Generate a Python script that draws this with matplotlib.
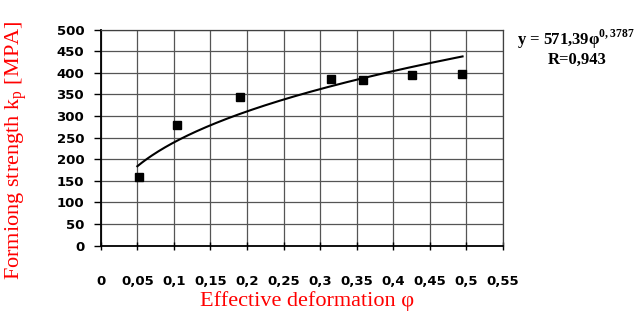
import numpy as np
import matplotlib.pyplot as plt

# measured points
phi = [0.052, 0.104, 0.190, 0.315, 0.359, 0.426, 0.494]
kp = [160, 279, 345, 386, 383, 396, 398]

# power trend line given on the chart
a = 571.39
b = 0.3787

xt = [0, 0.05, 0.1, 0.15, 0.2, 0.25, 0.3, 0.35, 0.4, 0.45, 0.5, 0.55]
xt_labels = ["0", "0,05", "0,1", "0,15", "0,2", "0,25", "0,3", "0,35", "0,4", "0,45", "0,5", "0,55"]
yt = [0, 50, 100, 150, 200, 250, 300, 350, 400, 450, 500]

fig = plt.figure(figsize=(6.38, 3.11), dpi=100)
ax = fig.add_axes([0.158, 0.21, 0.63, 0.695])

xs = np.linspace(0.05, 0.495, 200)
ax.plot(xs, a * xs ** b, color="black", lw=1.5, zorder=3)
ax.plot(phi, kp, "s", color="black", ms=6, zorder=4)

ax.set_xlim(0, 0.55)
ax.set_ylim(0, 500)
ax.set_xticks(xt)
ax.set_xticklabels(xt_labels)
ax.set_yticks(yt)
ax.grid(True, color="#555555", lw=0.9)
ax.set_axisbelow(True)

for s in ax.spines.values():
    s.set_color("#404040")
    s.set_linewidth(0.9)
ax.spines["left"].set_color("black")
ax.spines["bottom"].set_color("black")
ax.spines["left"].set_linewidth(1.3)
ax.spines["bottom"].set_linewidth(1.3)

ax.tick_params(axis="y", direction="out", length=5, width=1, pad=7)
ax.tick_params(axis="x", direction="inout", length=6, width=1, pad=18)
for lab in ax.get_xticklabels() + ax.get_yticklabels():
    lab.set_fontweight("bold")
    lab.set_fontsize(9.5)

fig.text(0.481, 0.033, "Effective deformation \u03c6", color="red",
         family="Liberation Serif", fontsize=16, ha="center", va="center")
fig.text(0.027, 0.518, "Formiong strength k$_\\mathregular{p}$ [MPA]", color="red",
         family="Liberation Serif", fontsize=16, ha="center", va="center",
         rotation=90)

fig.text(0.81, 0.855, "y = 571,39\u03c6$^{\\mathregular{0,3787}}$", family="Liberation Serif",
         fontweight="bold", fontsize=12)
fig.text(0.905, 0.795, "R=0,943", family="Liberation Serif", fontweight="bold",
         fontsize=12, ha="center")

fig.savefig("out.png", dpi=100)
